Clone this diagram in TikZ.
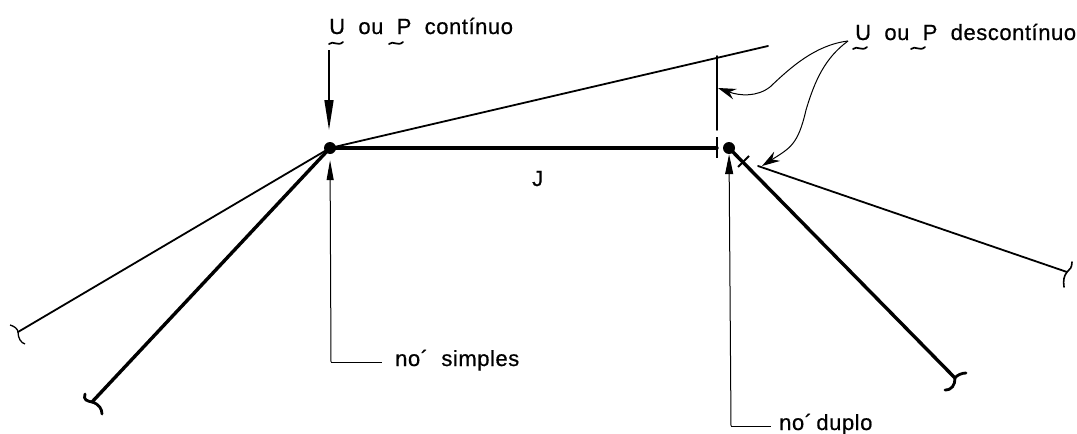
\documentclass[tikz,border=0pt]{standalone}
\usepackage{fontspec}
\setmainfont[WordSpace=2.0,LetterSpace=2.5,FakeBold=0.6]{Liberation Sans}
\usetikzlibrary{arrows.meta}
\tikzset{
  x=1pt,y=-1pt,
  lbl/.style={inner sep=0pt,anchor=base west,font=\fontsize{22}{24}\selectfont},
  thinl/.style={line width=1.8pt,line cap=round},
  thickl/.style={line width=3.4pt,line cap=round},
  hair/.style={line width=1pt},
  dotn/.style={circle,fill=black,inner sep=0pt,minimum size=12pt},
  wig/.style={line width=1.7pt,line cap=round},
  longhead/.style={-{Triangle[length=30pt,width=9pt]},line width=1.6pt},
  barb/.style={-{Stealth[length=18pt,width=11pt,inset=6pt]},line width=1pt},
}
\newcommand{\tildemark}[2]{\draw[wig] (#1-7,#2+1) .. controls (#1-3,#2-3) and (#1+2,#2+4) .. (#1+7,#2-1);}
\begin{document}
\begin{tikzpicture}
\useasboundingbox (0,0) rectangle (1077,434);
% nodes
\node[dotn] (A) at (330,148) {};
\node[dotn] (B) at (729,148) {};
\coordinate (jr) at (717,148);
\coordinate (top) at (768,46);
\coordinate (vt) at (717,56);
\coordinate (vb) at (717,130);
\coordinate (tk1) at (717,137);
\coordinate (tk2) at (717,158);
\coordinate (x1) at (738,167);
\coordinate (x2) at (749,156);
\coordinate (rj) at (758,166);
\coordinate (re) at (1067,272);
\coordinate (be) at (955,378);
\coordinate (le) at (18,332);
\coordinate (lb) at (92,402);
\coordinate (src) at (848,41);
\coordinate (ad) at (329,50);
\coordinate (ae) at (329,130);
% members
\draw[thickl] (A.center) -- (jr);
\draw[thinl] (A.center) -- (top);
\draw[thinl] (vt) -- (vb);
\draw[line width=2pt] (tk1) -- (tk2);
\draw[thinl] (A.center) -- (le);
\draw[thickl] (A.center) -- (lb);
\draw[thickl] (B.center) -- (be);
\draw[thinl] (rj) -- (re);
\draw[line width=2pt] (x1) -- (x2);
% member end marks
\draw[line width=1.3pt] (10,325) .. controls (14,326) and (18,329) .. (18,332) .. controls (18,338) and (21,343) .. (25,344);
\draw[line width=2.8pt,line cap=round] (85,394) .. controls (83,400) and (87,401) .. (92,402) .. controls (99,404) and (102,409) .. (102,414);
\draw[line width=2.8pt,line cap=round] (945,390) .. controls (952,390) and (955,385) .. (955,378) .. controls (957,375) and (962,373) .. (966,373);
\draw[line width=1.6pt,line cap=round] (1064,287) .. controls (1063,280) and (1064,276) .. (1067,272) .. controls (1070,270) and (1072,267) .. (1072,262);
% load arrows
\draw[longhead] (ad) -- (ae);
\coordinate (lsbot) at (331,362);
\coordinate (lsend) at (382,362);
\coordinate (ldbot) at (731,426);
\coordinate (ldend) at (771,426);
\draw[hair,shorten >=6pt,-{Triangle[length=20pt,width=7pt]}] (lsbot) -- (A);
\draw[hair] (lsbot) -- (lsend);
\draw[hair,-{Triangle[length=20pt,width=8pt]}] (ldbot) -- (B);
\draw[hair] (ldbot) -- (ldend);
% curved pointers
\draw[barb] (src) .. controls (815,45) and (790,68) .. (770,87) .. controls (757,97) and (740,96) .. (718,88);
\draw[barb] (src) .. controls (825,58) and (815,80) .. (806,110) .. controls (798,145) and (790,148) .. (762,166);
% labels
\node[lbl] (t1) at (329,34) {U ou P contínuo};
\node[lbl] (t2) at (855,40) {U ou P descontínuo};
\node[lbl] (J) at (532,186) {J};
\node[lbl] (t3) at (395,366) {no´ simples};
\node[lbl] (t4) at (779,430) {no´\hspace{-9pt} duplo};
\tildemark{336}{43}
\tildemark{396}{43}
\tildemark{860}{48}
\tildemark{918}{48}
\end{tikzpicture}
\end{document}
